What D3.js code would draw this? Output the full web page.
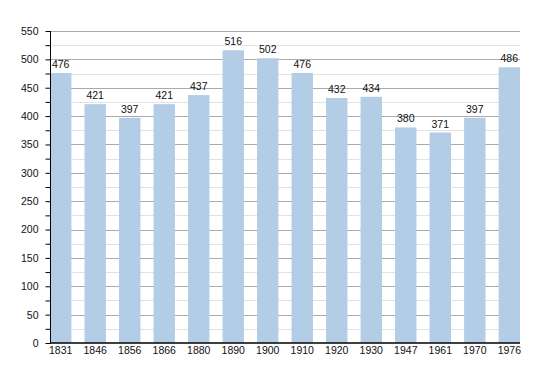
<!DOCTYPE html>
<html lang="en">
<head>
    <meta charset="UTF-8">
    <title>Population</title>
    <script src="https://d3js.org/d3.v7.min.js"></script>
    <style>
        body { margin: 0; background: #fff; }
        svg { display: block; font-family: "Liberation Sans", Arial, sans-serif; }
    </style>
</head>
<body>
    <div id="chart"></div>
    <script>
        const years = ["1831", "1846", "1856", "1866", "1880", "1890", "1900", "1910", "1920", "1930", "1947", "1961", "1970", "1976"];
        const population = [476, 421, 397, 421, 437, 516, 502, 476, 432, 434, 380, 371, 397, 486];
        const yTicks = [0, 50, 100, 150, 200, 250, 300, 350, 400, 450, 500, 550];

        const width = 550;
        const height = 373;
        const margin = { top: 31, right: 30, bottom: 30, left: 50 };
        const fontSize = 10.5;

        const svg = d3.select("#chart")
                      .append("svg")
                      .attr("width", width)
                      .attr("height", height);

        const x = d3.scaleBand()
                    .domain(years)
                    .range([margin.left, width - margin.right])
                    .paddingInner(0.38)
                    .paddingOuter(0);

        const y = d3.scaleLinear()
                    .domain([0, 550])
                    .range([height - margin.bottom, margin.top]);

        // minor gridlines every 25
        svg.append("g")
           .selectAll("line")
           .data(d3.range(25, 550, 50))
           .enter()
           .append("line")
           .attr("x1", margin.left)
           .attr("x2", width - margin.right)
           .attr("y1", d => Math.round(y(d)) + 0.5)
           .attr("y2", d => Math.round(y(d)) + 0.5)
           .attr("stroke", "#e2e2e2");

        // major gridlines
        svg.append("g")
           .selectAll("line")
           .data(yTicks.slice(1))
           .enter()
           .append("line")
           .attr("x1", margin.left)
           .attr("x2", width - margin.right)
           .attr("y1", d => Math.round(y(d)) + 0.5)
           .attr("y2", d => Math.round(y(d)) + 0.5)
           .attr("stroke", "#aaaaaa");

        // bars
        svg.append("g")
           .selectAll("rect")
           .data(population)
           .enter()
           .append("rect")
           .attr("x", (d, i) => x(years[i]))
           .attr("y", d => y(d))
           .attr("width", x.bandwidth())
           .attr("height", d => y(0) - y(d))
           .attr("fill", "#b3cde6");

        // value labels
        svg.append("g")
           .selectAll("text")
           .data(population)
           .enter()
           .append("text")
           .attr("x", (d, i) => x(years[i]) + x.bandwidth() / 2)
           .attr("y", d => y(d) - 5)
           .attr("text-anchor", "middle")
           .attr("font-size", fontSize)
           .attr("fill", "#111")
           .text(d => d);

        // y axis
        const yAxis = d3.axisLeft(y)
                        .tickValues(d3.range(0, 551, 25))
                        .tickSize(5)
                        .tickPadding(7)
                        .tickFormat(d => d % 50 === 0 ? d : "");
        const gy = svg.append("g")
                      .attr("transform", `translate(${margin.left + 0.5},0)`)
                      .call(yAxis);
        gy.select(".domain").attr("stroke", "#000").attr("d", `M0,${y(550)}V${y(0)}`);
        gy.selectAll(".tick line").attr("stroke", "#000");
        gy.selectAll(".tick text").attr("font-size", fontSize).attr("fill", "#111")
          .attr("font-family", "Liberation Sans, Arial, sans-serif");

        // x axis
        const xAxis = d3.axisBottom(x).tickSize(0).tickPadding(4);
        const gx = svg.append("g")
                      .attr("transform", `translate(0,${y(0)})`)
                      .call(xAxis);
        gx.select(".domain").attr("stroke", "#000").attr("stroke-width", 1.5)
          .attr("d", `M${margin.left},0H${width - margin.right}`);
        gx.selectAll(".tick text").attr("font-size", fontSize).attr("fill", "#111")
          .attr("font-family", "Liberation Sans, Arial, sans-serif");
    </script>
</body>
</html>
